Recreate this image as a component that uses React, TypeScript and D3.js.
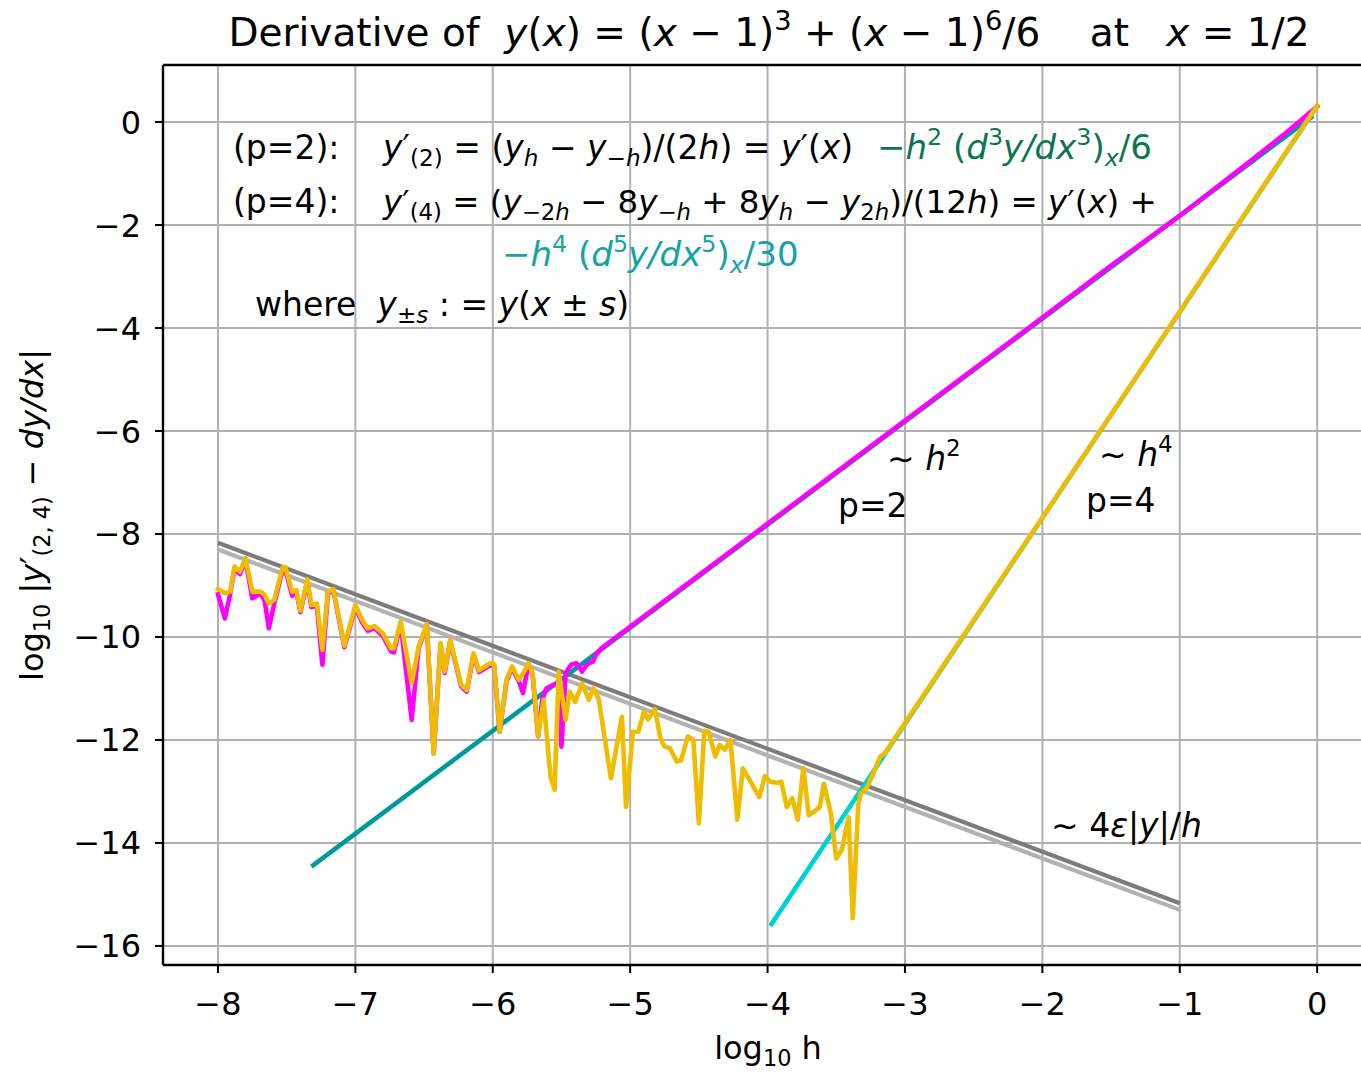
import React from "react";
import * as d3 from "d3";

// ---- data (log10 h, log10 |error|) ----
const xTicks = [-8, -7, -6, -5, -4, -3, -2, -1, 0];
const yTicks = [0, -2, -4, -6, -8, -10, -12, -14, -16];

// p = 4 five-point stencil, measured error
const p4Curve: [number, number][] = [
  [-8.0, -9.07], [-7.95, -9.15], [-7.91, -9.12], [-7.88, -8.63], [-7.84, -8.73], [-7.8, -8.47],
  [-7.75, -9.12], [-7.69, -9.12], [-7.66, -9.18], [-7.63, -9.35], [-7.59, -9.28], [-7.53, -8.65],
  [-7.51, -8.64], [-7.46, -9.12], [-7.43, -9.09], [-7.4, -9.49], [-7.35, -8.88], [-7.32, -9.38],
  [-7.28, -9.35], [-7.24, -10.25], [-7.2, -9.12], [-7.16, -9.07], [-7.08, -10.17], [-7.0, -9.38],
  [-6.95, -9.67], [-6.91, -9.83], [-6.86, -9.79], [-6.8, -9.93], [-6.74, -10.22], [-6.72, -10.22],
  [-6.67, -9.7], [-6.59, -10.9], [-6.54, -10.19], [-6.48, -9.75], [-6.43, -12.26], [-6.38, -10.12],
  [-6.35, -10.67], [-6.31, -10.06], [-6.23, -10.93], [-6.19, -11.03], [-6.14, -10.32], [-6.1, -10.65],
  [-6.02, -10.51], [-5.99, -10.53], [-5.95, -11.84], [-5.9, -10.83], [-5.86, -10.57], [-5.81, -10.83],
  [-5.78, -10.71], [-5.74, -10.51], [-5.71, -10.71], [-5.67, -11.93], [-5.63, -11.22], [-5.58, -12.71],
  [-5.55, -12.97], [-5.52, -10.67], [-5.47, -11.61], [-5.44, -11.06], [-5.4, -11.26], [-5.35, -10.9],
  [-5.3, -11.22], [-5.27, -11.0], [-5.23, -11.19], [-5.14, -12.74], [-5.06, -11.55], [-5.03, -13.3],
  [-4.98, -11.84], [-4.94, -11.84], [-4.9, -11.45], [-4.87, -11.6], [-4.82, -11.4], [-4.78, -11.97],
  [-4.75, -12.13], [-4.71, -12.16], [-4.66, -12.42], [-4.63, -12.4], [-4.58, -11.93], [-4.54, -12.0],
  [-4.5, -13.62], [-4.46, -11.82], [-4.43, -11.84], [-4.38, -12.32], [-4.35, -12.1], [-4.31, -12.19],
  [-4.27, -12.0], [-4.22, -13.55], [-4.18, -12.55], [-4.13, -12.78], [-4.09, -12.97], [-4.06, -13.11],
  [-4.02, -12.7], [-3.98, -12.81], [-3.93, -12.83], [-3.9, -12.81], [-3.86, -13.3], [-3.82, -13.13],
  [-3.78, -13.55], [-3.74, -12.55], [-3.7, -13.46], [-3.66, -13.39], [-3.62, -13.3], [-3.59, -12.85],
  [-3.54, -13.42], [-3.5, -14.3], [-3.46, -14.14], [-3.41, -13.5], [-3.38, -15.46], [-3.34, -13.26],
  [-3.32, -13.03], [-3.28, -12.94], [-3.24, -12.71], [-3.18, -12.32], [-3.15, -12.27], [-2.0, -7.68],
  [-1.0, -3.68], [0.0, 0.32],
];

// p = 2 central difference, measured error
const p2Curve: [number, number][] = [
  [-8.0, -9.17], [-7.95, -9.64], [-7.91, -9.15], [-7.88, -8.68], [-7.84, -8.78], [-7.8, -8.5],
  [-7.75, -9.25], [-7.69, -9.15], [-7.66, -9.3], [-7.63, -9.83], [-7.59, -9.35], [-7.53, -8.7],
  [-7.51, -8.68], [-7.46, -9.2], [-7.43, -9.12], [-7.4, -9.52], [-7.35, -8.92], [-7.32, -9.42],
  [-7.28, -9.4], [-7.24, -10.54], [-7.2, -9.15], [-7.16, -9.1], [-7.08, -10.2], [-7.0, -9.42],
  [-6.95, -9.72], [-6.91, -9.88], [-6.86, -9.83], [-6.8, -9.98], [-6.74, -10.28], [-6.72, -10.3],
  [-6.67, -9.75], [-6.59, -11.61], [-6.54, -10.22], [-6.48, -9.78], [-6.43, -12.26], [-6.38, -10.15],
  [-6.35, -10.7], [-6.31, -10.08], [-6.23, -10.96], [-6.19, -11.06], [-6.14, -10.35], [-6.1, -10.68],
  [-6.02, -10.55], [-5.99, -10.56], [-5.95, -11.84], [-5.9, -10.86], [-5.86, -10.6], [-5.81, -10.86],
  [-5.78, -11.09], [-5.74, -10.53], [-5.71, -10.73], [-5.67, -11.93], [-5.64, -11.22], [-5.61, -11.0],
  [-5.56, -10.93], [-5.52, -10.9], [-5.5, -12.13], [-5.47, -10.71], [-5.43, -10.54], [-5.39, -10.51],
  [-5.35, -10.67], [-5.31, -10.52], [-5.27, -10.48], [-5.25, -10.35], [-5.21, -10.22], [-4.0, -7.8],
  [-3.0, -5.8], [-2.0, -3.8], [-1.5, -2.79], [-1.0, -1.82], [-0.5, -0.79], [-0.25, -0.26], [0.0, 0.3],
];

// leading-order truncation terms
const p2Theory: [number, number][] = [[-7.32, -14.46], [-0.03, 0.12]];
const p4Theory: [number, number][] = [[-3.98, -15.61], [-0.02, 0.23]];

// round-off floor  ~ 4 eps |y| / h
const roundoffDark: [number, number][] = [[-8, -8.17], [-1, -15.17]];
const roundoffLight: [number, number][] = [[-8, -8.3], [-1, -15.3]];

// ---- layout ----
const W = 1361;
const H = 1073;
const left = 163;
const top = 65;
const bottom = 965;
const unitX = 137.4;
const xMin = -8.4;
const xMax = 0.42;

const FONT = "'DejaVu Sans', Verdana, sans-serif";

type Part = { t: string; it?: boolean; sub?: boolean; sup?: boolean };

function MathText({
  x, y, parts, size, fill = "#000", anchor = "start", transform,
}: {
  x: number; y: number; parts: Part[]; size: number; fill?: string;
  anchor?: "start" | "middle" | "end"; transform?: string;
}) {
  let shift = 0;
  return (
    <text
      x={x}
      y={y}
      fontFamily={FONT}
      fontSize={size}
      fill={fill}
      textAnchor={anchor}
      transform={transform}
      style={{ whiteSpace: "pre" }}
    >
      {parts.map((p, i) => {
        const target = p.sub ? 0.22 * size : p.sup ? -0.42 * size : 0;
        const dy = target - shift;
        shift = target;
        return (
          <tspan
            key={i}
            dy={dy}
            fontSize={p.sub || p.sup ? size * 0.7 : size}
            fontStyle={p.it ? "italic" : "normal"}
          >
            {p.t}
          </tspan>
        );
      })}
    </text>
  );
}

const titleParts: Part[] = [
  { t: "Derivative of  " }, { t: "y", it: true }, { t: "(" }, { t: "x", it: true },
  { t: ") = (" }, { t: "x", it: true }, { t: " − 1)" }, { t: "3", sup: true },
  { t: " + (" }, { t: "x", it: true }, { t: " − 1)" }, { t: "6", sup: true },
  { t: "/6    at   " }, { t: "x", it: true }, { t: " = 1/2" },
];

const p2Formula: Part[] = [
  { t: "y", it: true }, { t: "′" }, { t: "(2)", sub: true }, { t: " = (" },
  { t: "y", it: true }, { t: "h", it: true, sub: true }, { t: " − " },
  { t: "y", it: true }, { t: "−", sub: true }, { t: "h", it: true, sub: true },
  { t: ")/(2" }, { t: "h", it: true }, { t: ") = " }, { t: "y", it: true },
  { t: "′(" }, { t: "x", it: true }, { t: ")" },
];

const p2Term: Part[] = [
  { t: "−" }, { t: "h", it: true }, { t: "2", sup: true }, { t: " (" },
  { t: "d", it: true }, { t: "3", sup: true }, { t: "y/dx", it: true },
  { t: "3", sup: true }, { t: ")" }, { t: "x", it: true, sub: true }, { t: "/6" },
];

const p4Formula: Part[] = [
  { t: "y", it: true }, { t: "′" }, { t: "(4)", sub: true }, { t: " = (" },
  { t: "y", it: true }, { t: "−2", sub: true }, { t: "h", it: true, sub: true },
  { t: " − 8" }, { t: "y", it: true }, { t: "−", sub: true }, { t: "h", it: true, sub: true },
  { t: " + 8" }, { t: "y", it: true }, { t: "h", it: true, sub: true }, { t: " − " },
  { t: "y", it: true }, { t: "2", sub: true }, { t: "h", it: true, sub: true },
  { t: ")/(12" }, { t: "h", it: true }, { t: ") = " }, { t: "y", it: true },
  { t: "′(" }, { t: "x", it: true }, { t: ") +" },
];

const p4Term: Part[] = [
  { t: "−" }, { t: "h", it: true }, { t: "4", sup: true }, { t: " (" },
  { t: "d", it: true }, { t: "5", sup: true }, { t: "y/dx", it: true },
  { t: "5", sup: true }, { t: ")" }, { t: "x", it: true, sub: true }, { t: "/30" },
];

const whereParts: Part[] = [
  { t: "where  " }, { t: "y", it: true }, { t: "±", sub: true }, { t: "s", it: true, sub: true },
  { t: " : = " }, { t: "y", it: true }, { t: "(" }, { t: "x", it: true }, { t: " ± " },
  { t: "s", it: true }, { t: ")" },
];

const yLabelParts: Part[] = [
  { t: "log" }, { t: "10", sub: true }, { t: " |" }, { t: "y", it: true }, { t: "′" },
  { t: "(2, 4)", sub: true }, { t: " − " }, { t: "dy/dx", it: true }, { t: "|" },
];

const xLabelParts: Part[] = [{ t: "log" }, { t: "10", sub: true }, { t: " h" }];

export default function App() {
  const x = d3.scaleLinear().domain([xMin, xMax]).range([left, left + (xMax - xMin) * unitX]);
  const y = d3.scaleLinear().domain([-16.37, 1.107]).range([bottom, top]);
  const line = d3
    .line<[number, number]>()
    .x((d) => x(d[0]))
    .y((d) => y(d[1]));
  const right = x(xMax);

  const tickFs = 32;
  const annFs = 33;
  const lw = 4.6;

  const strokeProps = {
    fill: "none",
    strokeLinejoin: "round" as const,
  };

  return (
    <svg
      width={W}
      height={H}
      style={{ position: "absolute", left: 0, top: 0, background: "#fff", overflow: "hidden" }}
    >
      <defs>
        <clipPath id="plotClip">
          <rect x={left} y={top} width={right - left} height={bottom - top} />
        </clipPath>
      </defs>

      {/* grid */}
      <g stroke="#b0b0b0" strokeWidth={2}>
        {xTicks.map((t) => (
          <line key={"gx" + t} x1={x(t)} x2={x(t)} y1={top} y2={bottom} />
        ))}
        {yTicks.map((t) => (
          <line key={"gy" + t} x1={left} x2={right} y1={y(t)} y2={y(t)} />
        ))}
      </g>

      <g clipPath="url(#plotClip)">
        <path d={line(roundoffDark) || ""} stroke="#7c7c7c" strokeWidth={4.2} {...strokeProps} strokeLinecap="butt" />
        <path d={line(roundoffLight) || ""} stroke="#b2b2b2" strokeWidth={4.2} {...strokeProps} strokeLinecap="butt" />
        <path d={line(p2Theory) || ""} stroke="#009a9a" strokeWidth={lw} {...strokeProps} strokeLinecap="butt" />
        <path d={line(p4Theory) || ""} stroke="#00d0d0" strokeWidth={lw} {...strokeProps} strokeLinecap="butt" />
        <path d={line(p2Curve) || ""} stroke="#ff00ff" strokeWidth={lw} {...strokeProps} strokeLinecap="square" />
        <path d={line(p4Curve) || ""} stroke="#f0bc00" strokeWidth={lw} {...strokeProps} strokeLinecap="square" />
      </g>

      {/* spines */}
      <g stroke="#000" strokeWidth={2.4} fill="none">
        <line x1={left} x2={left} y1={top} y2={bottom} />
        <line x1={left} x2={right} y1={top} y2={top} />
        <line x1={left} x2={right} y1={bottom} y2={bottom} />
      </g>

      {/* ticks */}
      <g stroke="#000" strokeWidth={2}>
        {xTicks.map((t) => (
          <line key={"tx" + t} x1={x(t)} x2={x(t)} y1={bottom} y2={bottom + 8} />
        ))}
        {yTicks.map((t) => (
          <line key={"ty" + t} x1={left - 8} x2={left} y1={y(t)} y2={y(t)} />
        ))}
      </g>
      <g fontFamily={FONT} fontSize={tickFs} fill="#000">
        {xTicks.map((t) => (
          <text key={"lx" + t} x={x(t)} y={bottom + 50} textAnchor="middle">
            {t < 0 ? "−" + Math.abs(t) : String(t)}
          </text>
        ))}
        {yTicks.map((t) => (
          <text key={"ly" + t} x={left - 22} y={y(t)} dy="0.36em" textAnchor="end">
            {t < 0 ? "−" + Math.abs(t) : String(t)}
          </text>
        ))}
      </g>

      {/* title and axis labels */}
      <MathText x={769} y={46} parts={titleParts} size={39} anchor="middle" />
      <MathText x={768} y={1059} parts={xLabelParts} size={tickFs} anchor="middle" />
      <MathText x={0} y={0} parts={yLabelParts} size={tickFs} anchor="middle" transform="translate(43,515) rotate(-90)" />

      {/* formula annotations */}
      <text x={233} y={159} fontFamily={FONT} fontSize={annFs}>(p=2):</text>
      <MathText x={383} y={159} parts={p2Formula} size={annFs} />
      <MathText x={877} y={159} parts={p2Term} size={annFs + 1} fill="#0b7552" />
      <text x={233} y={213} fontFamily={FONT} fontSize={annFs}>(p=4):</text>
      <MathText x={383} y={213} parts={p4Formula} size={annFs - 0.5} />
      <MathText x={502} y={266} parts={p4Term} size={annFs + 1} fill="#14a3a3" />
      <MathText x={255} y={316} parts={whereParts} size={annFs} />

      {/* slope labels */}
      <MathText x={887} y={470} parts={[{ t: "∼ " }, { t: "h", it: true }, { t: "2", sup: true }]} size={annFs} />
      <text x={838} y={517} fontFamily={FONT} fontSize={annFs}>p=2</text>
      <MathText x={1099} y={466} parts={[{ t: "∼ " }, { t: "h", it: true }, { t: "4", sup: true }]} size={annFs} />
      <text x={1086} y={512} fontFamily={FONT} fontSize={annFs}>p=4</text>
      <MathText
        x={1051}
        y={837}
        parts={[
          { t: "∼ 4" }, { t: "ε", it: true }, { t: "|" }, { t: "y", it: true }, { t: "|/" }, { t: "h", it: true },
        ]}
        size={annFs}
      />
    </svg>
  );
}
